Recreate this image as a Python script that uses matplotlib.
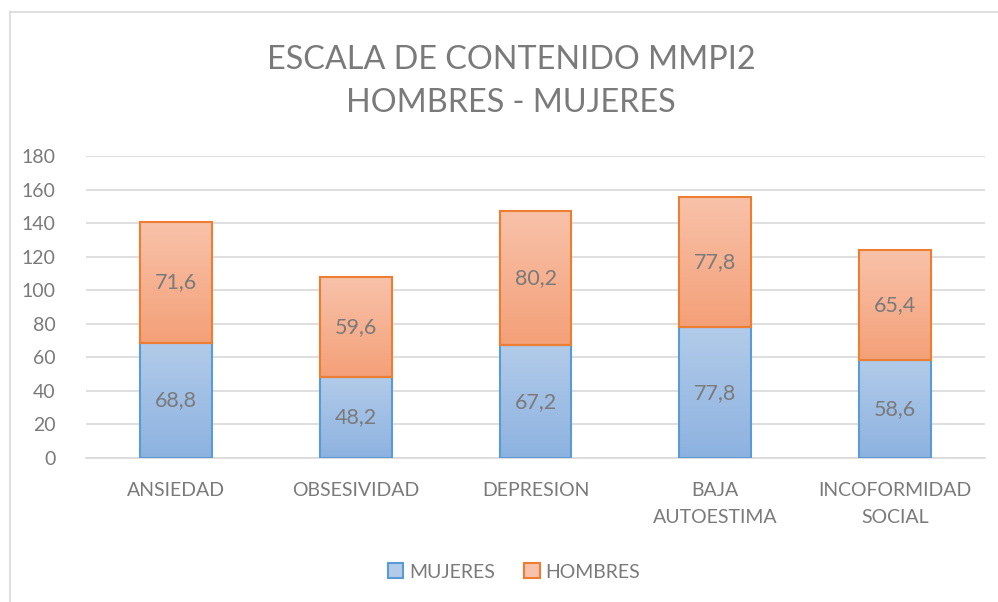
import numpy as np
import matplotlib
matplotlib.use("Agg")
import matplotlib.pyplot as plt
import matplotlib.patches as patches
from matplotlib.lines import Line2D
from matplotlib.colors import LinearSegmentedColormap

plt.rcParams['font.family'] = ['Lato', 'DejaVu Sans']

categories = ["ANSIEDAD", "OBSESIVIDAD", "DEPRESION", "BAJA\nAUTOESTIMA", "INCOFORMIDAD\nSOCIAL"]
mujeres = [68.8, 48.2, 67.2, 77.8, 58.6]
hombres = [71.6, 59.6, 80.2, 77.8, 65.4]
yticks = [0, 20, 40, 60, 80, 100, 120, 140, 160, 180]

txt = '#7a7a7a'
grid_c = '#d9d9d9'

series = [
    ("MUJERES", mujeres, '#b2cbe9', '#8db2e0', '#5b9bd5'),
    ("HOMBRES", hombres, '#f8c2aa', '#f4a078', '#ed7d31'),
]

fig = plt.figure(figsize=(9.98, 6.02), dpi=100)
ax = fig.add_axes([86 / 998, 1 - 458 / 602, (985 - 86) / 998, 302 / 602])

x = np.arange(len(categories))
width = 0.4
bottoms = np.zeros(len(categories))
grad = np.linspace(0, 1, 256).reshape(-1, 1)

for name, vals, ctop, cbot, edge in series:
    cmap = LinearSegmentedColormap.from_list(name, [cbot, ctop])
    for i, v in enumerate(vals):
        x0 = x[i] - width / 2
        y0 = bottoms[i]
        rect = patches.Rectangle((x0, y0), width, v, facecolor='none',
                                 edgecolor=edge, linewidth=1.5, zorder=4)
        ax.add_patch(rect)
        im = ax.imshow(grad, cmap=cmap, extent=[x0, x0 + width, y0, y0 + v],
                       origin='lower', aspect='auto', zorder=3)
        im.set_clip_path(rect)
        ax.text(x[i], y0 + v / 2, f"{v:.1f}".replace('.', ','), ha='center',
                va='center', fontsize=15.5, color=txt, zorder=5)
    bottoms += np.array(vals)

ax.set_xlim(-0.5, len(categories) - 0.5)
ax.set_ylim(0, 180)
ax.set_yticks(yticks)
ax.set_xticks(x)
ax.set_xticklabels(categories, fontsize=14, color=txt, linespacing=1.75)
ax.tick_params(axis='y', labelsize=14, labelcolor=txt, length=0, pad=22)
ax.tick_params(axis='x', length=0, pad=17)
ax.yaxis.grid(True, color=grid_c, linewidth=1.2, zorder=0)
ax.set_axisbelow(True)
for s in ['top', 'right', 'left']:
    ax.spines[s].set_visible(False)
ax.spines['bottom'].set_color(grid_c)
ax.spines['bottom'].set_linewidth(1.2)

fig.text(0.512, 1 - 60 / 602, "ESCALA DE CONTENIDO MMPI2", ha='center', va='center',
         fontsize=23.3, color=txt)
fig.text(0.512, 1 - 103 / 602, "HOMBRES - MUJERES", ha='center', va='center',
         fontsize=23.3, color=txt)

handles = [patches.Patch(facecolor=s[2], edgecolor=s[4], linewidth=1.5, label=s[0]) for s in series]
fig.legend(handles=handles, loc='center', bbox_to_anchor=(0.515, 1 - 572 / 602), ncol=2,
           frameon=False, fontsize=14, labelcolor=txt, handlelength=0.8, handleheight=0.8,
           handletextpad=0.3, columnspacing=1.5)

fig.add_artist(Line2D([10 / 998, 10 / 998], [-0.1, 1 - 12 / 602], color=grid_c, linewidth=1.2,
                      transform=fig.transFigure))
fig.add_artist(Line2D([10 / 998, 1.1], [1 - 12 / 602, 1 - 12 / 602], color=grid_c, linewidth=1.2,
                      transform=fig.transFigure))

fig.savefig("out.png", dpi=100, facecolor='white')
